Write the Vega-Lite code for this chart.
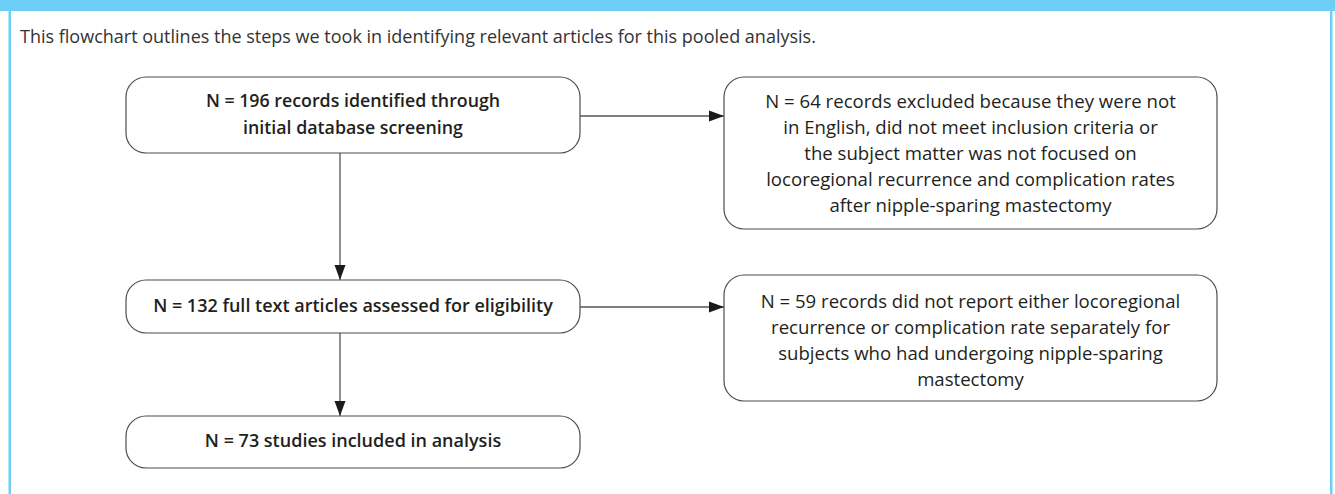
{
  "$schema": "https://vega.github.io/schema/vega-lite/v6.json",
  "width": 1335,
  "height": 494,
  "padding": 0,
  "autosize": {"type": "fit", "contains": "padding"},
  "background": "white",
  "config": {"view": {"stroke": null}},
  "datasets": {
    "frame": [
      {"part": "header", "x1": 0, "x2": 1335, "y1": 0, "y2": 11},
      {"part": "left", "x1": 8.5, "x2": 11, "y1": 0, "y2": 494},
      {"part": "right", "x1": 1330, "x2": 1332.5, "y1": 0, "y2": 494}
    ],
    "boxes": [
      {"id": "identified", "side": "main", "lines": 2, "x1": 126, "x2": 580, "y1": 77, "y2": 153, "cx": 353, "cy": 115, "label": "N = 196 records identified through\ninitial database screening"},
      {"id": "excluded", "side": "excluded", "lines": 5, "x1": 724, "x2": 1217, "y1": 77, "y2": 229, "cx": 970.5, "cy": 154, "label": "N = 64 records excluded because they were not\nin English, did not meet inclusion criteria or\nthe subject matter was not focused on\nlocoregional recurrence and complication rates\nafter nipple-sparing mastectomy"},
      {"id": "assessed", "side": "main", "lines": 1, "x1": 126, "x2": 580, "y1": 280, "y2": 333, "cx": 353, "cy": 306.5, "label": "N = 132 full text articles assessed for eligibility"},
      {"id": "notreported", "side": "excluded", "lines": 4, "x1": 724, "x2": 1217, "y1": 275, "y2": 401, "cx": 970.5, "cy": 341, "label": "N = 59 records did not report either locoregional\nrecurrence or complication rate separately for\nsubjects who had undergoing nipple-sparing\nmastectomy"},
      {"id": "included", "side": "main", "lines": 1, "x1": 126, "x2": 580, "y1": 416, "y2": 468, "cx": 353, "cy": 442, "label": "N = 73 studies included in analysis"}
    ],
    "links": [
      {"from": "identified", "to": "assessed", "x1": 340, "y1": 153, "x2": 340, "y2": 280, "dir": "down"},
      {"from": "identified", "to": "excluded", "x1": 580, "y1": 116, "x2": 724, "y2": 116, "dir": "right"},
      {"from": "assessed", "to": "notreported", "x1": 580, "y1": 307, "x2": 724, "y2": 307, "dir": "right"},
      {"from": "assessed", "to": "included", "x1": 340, "y1": 333, "x2": 340, "y2": 416, "dir": "down"}
    ],
    "notes": [
      {"x": 20, "y": 38, "label": "This flowchart outlines the steps we took in identifying relevant articles for this pooled analysis."}
    ]
  },
  "layer": [
    {
      "data": {"name": "frame"},
      "mark": {"type": "rect", "color": "#6dcff6"},
      "encoding": {
        "x": {"field": "x1", "type": "quantitative", "scale": {"domain": [0, 1335], "nice": false, "zero": false}, "axis": null},
        "x2": {"field": "x2"},
        "y": {"field": "y1", "type": "quantitative", "scale": {"domain": [0, 494], "nice": false, "zero": false, "reverse": true}, "axis": null},
        "y2": {"field": "y2"}
      }
    },
    {
      "data": {"name": "links"},
      "mark": {"type": "rule", "color": "#555555", "strokeWidth": 1.3},
      "encoding": {
        "x": {"field": "x1", "type": "quantitative"},
        "x2": {"field": "x2"},
        "y": {"field": "y1", "type": "quantitative"},
        "y2": {"field": "y2"}
      }
    },
    {
      "data": {"name": "links"},
      "transform": [{"filter": "datum.dir === 'right'"}],
      "mark": {"type": "point", "filled": true, "opacity": 1, "color": "#1a1a1a", "size": 225, "shape": "M0,0L-2,-0.73L-2,0.73Z"},
      "encoding": {
        "x": {"field": "x2", "type": "quantitative"},
        "y": {"field": "y2", "type": "quantitative"}
      }
    },
    {
      "data": {"name": "links"},
      "transform": [{"filter": "datum.dir === 'down'"}],
      "mark": {"type": "point", "filled": true, "opacity": 1, "color": "#1a1a1a", "size": 225, "shape": "M0,0L-0.73,-2L0.73,-2Z"},
      "encoding": {
        "x": {"field": "x2", "type": "quantitative"},
        "y": {"field": "y2", "type": "quantitative"}
      }
    },
    {
      "data": {"name": "boxes"},
      "mark": {"type": "rect", "fill": "white", "stroke": "#4d4d4d", "strokeWidth": 1.2, "cornerRadius": 20},
      "encoding": {
        "x": {"field": "x1", "type": "quantitative"},
        "x2": {"field": "x2"},
        "y": {"field": "y1", "type": "quantitative"},
        "y2": {"field": "y2"}
      }
    },
    {
      "data": {"name": "boxes"},
      "transform": [{"filter": "datum.side === 'main' && datum.lines === 1"}],
      "mark": {"type": "text", "align": "center", "baseline": "middle", "lineBreak": "\n", "lineHeight": 27, "font": "Open Sans", "fontSize": 18, "fontWeight": 600, "color": "#231f20"},
      "encoding": {
        "x": {"field": "cx", "type": "quantitative"},
        "y": {"field": "cy", "type": "quantitative"},
        "text": {"field": "label"}
      }
    },
    {
      "data": {"name": "boxes"},
      "transform": [{"filter": "datum.side === 'main' && datum.lines === 2"}],
      "mark": {"type": "text", "align": "center", "baseline": "middle", "lineBreak": "\n", "lineHeight": 27, "dy": -13.5, "font": "Open Sans", "fontSize": 17.8, "fontWeight": 600, "color": "#231f20"},
      "encoding": {
        "x": {"field": "cx", "type": "quantitative"},
        "y": {"field": "cy", "type": "quantitative"},
        "text": {"field": "label"}
      }
    },
    {
      "data": {"name": "boxes"},
      "transform": [{"filter": "datum.side === 'excluded' && datum.lines === 5"}],
      "mark": {"type": "text", "align": "center", "baseline": "middle", "lineBreak": "\n", "lineHeight": 26, "dy": -52, "font": "Open Sans", "fontSize": 18.6, "fontWeight": "normal", "color": "#231f20"},
      "encoding": {
        "x": {"field": "cx", "type": "quantitative"},
        "y": {"field": "cy", "type": "quantitative"},
        "text": {"field": "label"}
      }
    },
    {
      "data": {"name": "boxes"},
      "transform": [{"filter": "datum.side === 'excluded' && datum.lines === 4"}],
      "mark": {"type": "text", "align": "center", "baseline": "middle", "lineBreak": "\n", "lineHeight": 26, "dy": -39, "font": "Open Sans", "fontSize": 18.6, "fontWeight": "normal", "color": "#231f20"},
      "encoding": {
        "x": {"field": "cx", "type": "quantitative"},
        "y": {"field": "cy", "type": "quantitative"},
        "text": {"field": "label"}
      }
    },
    {
      "data": {"name": "notes"},
      "mark": {"type": "text", "align": "left", "baseline": "middle", "font": "Open Sans", "fontSize": 18, "color": "#333333"},
      "encoding": {
        "x": {"field": "x", "type": "quantitative"},
        "y": {"field": "y", "type": "quantitative"},
        "text": {"field": "label"}
      }
    }
  ]
}
